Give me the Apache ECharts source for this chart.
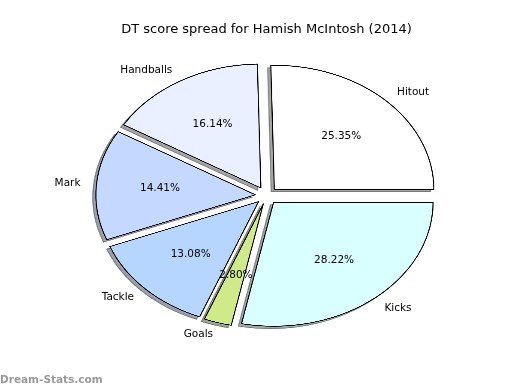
<!DOCTYPE html>
<html>
<head>
<meta charset="utf-8">
<script src="https://cdn.jsdelivr.net/npm/echarts@6/dist/echarts.min.js"></script>
<style>
  html, body { margin: 0; padding: 0; background: #ffffff; }
  #wrap { position: relative; width: 520px; height: 390px; overflow: hidden; }
  #pie, #top { position: absolute; left: 0; top: 0; width: 520px; height: 390px; }
</style>
</head>
<body>
<div id="wrap">
  <div id="pie"></div>
  <div id="top"></div>
</div>
<script>
// ---- data ----
var chartTitle = 'DT score spread for Hamish McIntosh (2014)';
var categories = ['Hitout', 'Handballs', 'Mark', 'Tackle', 'Goals', 'Kicks'];
var values = [25.35, 16.14, 14.41, 13.08, 2.80, 28.22];
var sliceColors = ['#ffffff', '#eaf0ff', '#c5d8ff', '#b6d6ff', '#d0ea8a', '#d9ffff'];
var watermark = 'Dream-Stats.com';

// ---- geometry (elliptical pie like the reference) ----
var cx = 266.5, cy = 195.5;   // pie centre (px)
var ry = 124;                 // vertical radius
var rx = 159.5;               // horizontal radius
var explode = 0.07;           // fraction of radius
var sx = rx / ry;
var pieDiv = document.getElementById('pie');
pieDiv.style.transformOrigin = cx + 'px ' + cy + 'px';
pieDiv.style.transform = 'scaleX(' + sx + ')';

function shadowOf(hex) {
  var r = parseInt(hex.substr(1, 2), 16), g = parseInt(hex.substr(3, 2), 16), b = parseInt(hex.substr(5, 2), 16);
  return 'rgba(' + Math.round(r * 0.3) + ',' + Math.round(g * 0.3) + ',' + Math.round(b * 0.3) + ',0.5)';
}

var pieChart = echarts.init(pieDiv, null, { renderer: 'canvas', devicePixelRatio: 3 });
function pieSeries(isShadow) {
  return {
    type: 'pie',
    silent: true,
    animation: false,
    center: isShadow ? [cx - 0.02 * ry, cy + 0.02 * ry] : [cx, cy],
    radius: [0, ry],
    startAngle: 0,
    clockwise: false,
    selectedMode: 'multiple',
    selectedOffset: explode * ry,
    avoidLabelOverlap: false,
    label: { show: false },
    labelLine: { show: false },
    emphasis: { disabled: true },
    z: isShadow ? 1 : 2,
    data: categories.map(function (n, i) {
      var col = isShadow ? shadowOf(sliceColors[i]) : sliceColors[i];
      return {
        name: n,
        value: values[i],
        selected: true,
        itemStyle: {
          color: col,
          borderColor: isShadow ? col : '#000000',
          borderWidth: isShadow ? 0.9 : 0.85
        }
      };
    })
  };
}
pieChart.setOption({
  animation: false,
  backgroundColor: 'transparent',
  series: [pieSeries(true), pieSeries(false)]
});

// ---- text layer ----
var total = values.reduce(function (s, v) { return s + v; }, 0);
var elements = [];
var font = '"DejaVu Sans", sans-serif';
var acc = 0;
values.forEach(function (v, i) {
  var a0 = acc / total * 360;
  acc += v;
  var a1 = acc / total * 360;
  var th = (a0 + a1) / 2 * Math.PI / 180;
  var c = Math.cos(th), s = Math.sin(th);
  var ax = cx + explode * rx * c, ay = cy - explode * ry * s;
  elements.push({
    type: 'text', x: ax + 1.1 * rx * c, y: ay - 1.1 * ry * s,
    style: { text: categories[i], fill: '#000', font: '10.5px ' + font,
             textAlign: c > 0 ? 'left' : 'right', textVerticalAlign: 'middle' }
  });
  elements.push({
    type: 'text', x: ax + 0.6 * rx * c, y: ay - 0.6 * ry * s,
    style: { text: v.toFixed(2) + '%', fill: '#000', font: '10.5px ' + font,
             textAlign: 'center', textVerticalAlign: 'middle' }
  });
});
elements.push({
  type: 'text', x: 266.5, y: 30,
  style: { text: chartTitle, fill: '#000', font: '13px ' + font, textAlign: 'center', textVerticalAlign: 'middle' }
});
elements.push({
  type: 'text', x: 0, y: 380,
  style: { text: watermark, fill: '#9a9a9a', font: 'bold 10.5px ' + font, textAlign: 'left', textVerticalAlign: 'middle' }
});

var topChart = echarts.init(document.getElementById('top'), null, { renderer: 'canvas' });
topChart.setOption({
  animation: false,
  backgroundColor: 'transparent',
  graphic: { elements: elements }
});
</script>
</body>
</html>
